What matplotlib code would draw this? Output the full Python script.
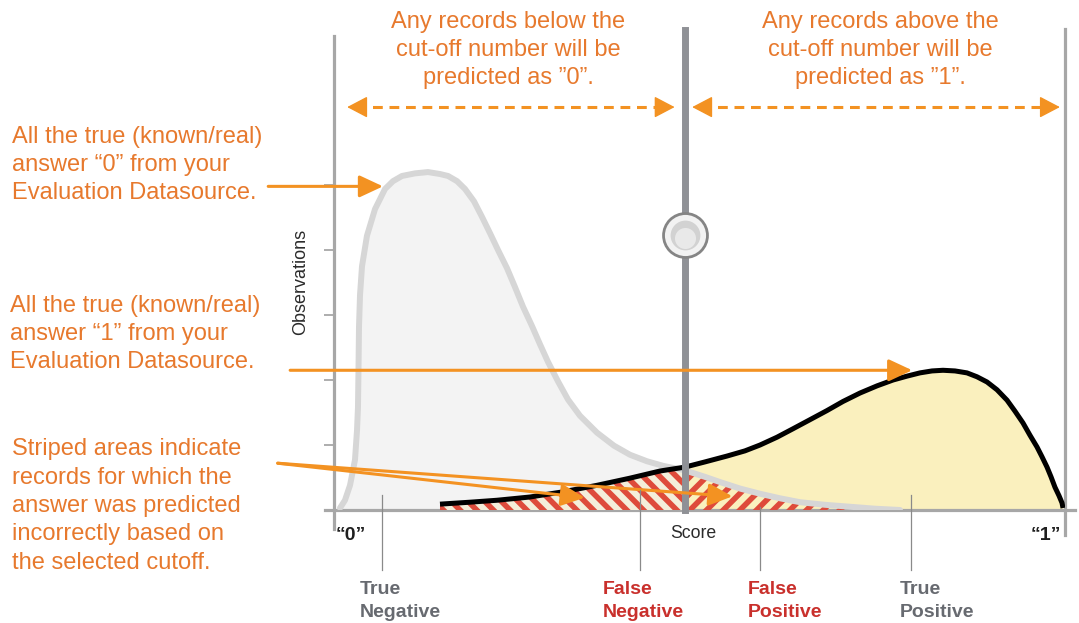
import matplotlib.pyplot as plt
import numpy as np

W, H = 1079, 623
plt.rcParams['font.family'] = ['Liberation Sans', 'DejaVu Sans']
plt.rcParams['hatch.linewidth'] = 4.0

# colours
ORANGE = '#F39222'
TEXT_ORANGE = '#E7792D'
RED_TEXT = '#C9302C'
GRAY_TEXT = '#676A70'
STRIPE_RED = '#DE4B3B'

# actual "0" answers: score vs observations (light gray curve)
score_0 = [0.82, 1.50, 2.19, 2.87, 3.15, 3.28, 3.35, 3.42, 3.56, 3.83, 4.51, 5.61,
           6.98, 8.07, 9.30, 11.08, 12.86, 14.50, 15.60, 16.83, 17.92, 19.15, 20.25,
           21.34, 22.44, 23.67, 24.76, 25.85, 27.09, 28.18, 29.27, 30.64, 32.01,
           33.65, 35.98, 38.30, 40.49, 42.82, 45.01, 48.0, 50.75, 52.80, 55.54,
           58.28, 61.01, 63.75, 67.17, 70.59, 74.01, 77.43]
obs_0 = [0.03, 0.15, 0.38, 0.77, 1.23, 1.58, 2.15, 2.82, 3.31, 3.75, 4.22, 4.63,
         4.94, 5.06, 5.14, 5.18, 5.20, 5.17, 5.14, 5.06, 4.94, 4.75, 4.51,
         4.26, 4.00, 3.72, 3.43, 3.13, 2.83, 2.55, 2.28, 1.98, 1.70,
         1.45, 1.19, 0.99, 0.85, 0.75, 0.68, 0.61, 0.51, 0.43, 0.33,
         0.25, 0.18, 0.12, 0.08, 0.05, 0.02, 0.0]

# actual "1" answers (yellow curve)
score_1 = [14.50, 18.60, 22.30, 26.81, 31.33, 35.98, 40.49, 44.60, 48.0, 50.75, 53.76,
           56.22, 58.28, 60.60, 62.79, 65.12, 67.44, 69.63, 71.96, 74.28, 76.47,
           78.39, 80.16, 81.81, 83.31, 84.95, 86.59, 87.96, 89.33, 90.70, 92.07,
           93.16, 94.25, 95.21, 96.17, 96.85, 97.54, 98.09, 98.63, 99.18, 99.59, 99.73]
obs_1 = [0.09, 0.12, 0.15, 0.20, 0.28, 0.38, 0.49, 0.60, 0.66, 0.74, 0.83,
         0.91, 1.00, 1.12, 1.25, 1.39, 1.53, 1.67, 1.80, 1.91, 2.00,
         2.06, 2.11, 2.14, 2.15, 2.14, 2.11, 2.05, 1.97, 1.85, 1.69,
         1.52, 1.34, 1.15, 0.97, 0.82, 0.66, 0.51, 0.35, 0.22, 0.11, 0.03]

cutoff = 48.0
knob_level = 4.23
y_ticks = [1, 2, 3, 4, 5]

# annotation arrows (start, tip) in score/observation units
arrow_0 = [(-9.0, 4.98), (6.7, 4.98)]
arrow_1 = [(-6.0, 2.15), (79.1, 2.15)]
arrow_fn = [(-7.7, 0.72), (34.3, 0.19)]
arrow_fp = [(-7.7, 0.72), (54.5, 0.21)]
range_level = 6.2
range_below = [1.8, 46.6]
range_above = [49.0, 99.3]

# leader lines for the four outcome labels
leader_x = [6.6, 41.8, 58.3, 78.9]
leader_top = [0.23, 0.31, 0.05, 0.23]
leader_bottom = -0.92

s0 = np.array(score_0)
o0 = np.array(obs_0)
s1 = np.array(score_1)
o1 = np.array(obs_1)

fig = plt.figure(figsize=(W / 100, H / 100), dpi=100)
ax = fig.add_axes([334 / W, 1 - 510 / H, 731 / W, 477 / H])
ax.set_xlim(0, 100)
ax.set_ylim(0, 7.34)

# distributions
ax.fill_between(s0, 0, o0, color='#F3F3F3', lw=0, zorder=1)
ax.fill_between(s1, 0, o1, color='#FAF0BE', lw=0, zorder=2)
# false negatives: "1" answers left of the cut-off
ax.fill_between(s1, 0, o1, where=s1 <= cutoff, facecolor='#F4EEDA',
                edgecolor=STRIPE_RED, hatch='\\\\', lw=0, zorder=3)
# false positives: "0" answers right of the cut-off
ax.fill_between(s0, 0, o0, where=s0 >= cutoff, facecolor='none',
                edgecolor=STRIPE_RED, hatch='//', lw=0, zorder=3)
ax.plot(s0, o0, color='#D6D6D6', lw=4.3, solid_capstyle='round',
        solid_joinstyle='round', zorder=4)
ax.plot(s1, o1, color='black', lw=3.6, solid_capstyle='butt',
        solid_joinstyle='round', zorder=5)

# axes frame
for side in ['left', 'bottom', 'right']:
    ax.spines[side].set_color('#A7A7A7')
    ax.spines[side].set_linewidth(2.3)
ax.spines['top'].set_visible(False)
ax.spines['left'].set_bounds(-0.3, 7.3)
ax.spines['right'].set_bounds(-0.38, 7.4)
ax.spines['bottom'].set_bounds(-1.2, 101.4)
ax.set_yticks(y_ticks)
ax.set_yticklabels([])
ax.set_xticks([])
ax.tick_params(axis='y', length=7, width=1.3, color='#A7A7A7')

# cut-off slider
ax.axvline(cutoff, ymin=0, ymax=1.006, color='#8F9196', lw=5, clip_on=False, zorder=6)
ax.scatter([cutoff], [knob_level], s=1000, facecolor='#F2F2F2', edgecolor='#858585',
           lw=2, zorder=7)
ax.scatter([cutoff], [knob_level], s=460, facecolor='#D2D2D2', lw=0, zorder=8)
ax.scatter([cutoff], [knob_level - 0.05], s=230, facecolor='#E9E9E9', lw=0, zorder=9)

# orange arrows
solid = dict(arrowstyle='-|>,head_length=0.9,head_width=0.42', color=ORANGE, lw=2.2,
             shrinkA=0, shrinkB=0, mutation_scale=16)
for start, tip in [arrow_0, arrow_1, arrow_fn, arrow_fp]:
    ax.annotate('', xy=tip, xytext=start, arrowprops=solid, annotation_clip=False,
                zorder=10)

# dashed range arrows: dashed shaft plus solid heads
head = dict(arrowstyle='-|>,head_length=0.8,head_width=0.42', color=ORANGE, lw=1,
            shrinkA=0, shrinkB=0, mutation_scale=16)
for x0, x1 in [range_below, range_above]:
    ax.plot([x0 + 1.2, x1 - 1.2], [range_level, range_level], color=ORANGE, lw=2.2,
            dashes=(3.2, 2.2), clip_on=False, zorder=10)
    ax.annotate('', xy=(x1, range_level), xytext=(x1 - 2.5, range_level), arrowprops=head,
                annotation_clip=False, zorder=10)
    ax.annotate('', xy=(x0, range_level), xytext=(x0 + 2.5, range_level), arrowprops=head,
                annotation_clip=False, zorder=10)

for x, top in zip(leader_x, leader_top):
    ax.plot([x, x], [top, leader_bottom], color='#8A8A8A', lw=0.9, clip_on=False, zorder=10)


def fx(px):
    return px / W


def fy(py):
    return 1 - py / H


big = dict(fontsize=17, color=TEXT_ORANGE, linespacing=1.37)
fig.text(fx(508), fy(50), 'Any records below the\ncut-off number will be\npredicted as \u201d0\u201d.',
         ha='center', va='center', **big)
fig.text(fx(880), fy(50), 'Any records above the\ncut-off number will be\npredicted as \u201d1\u201d.',
         ha='center', va='center', **big)
fig.text(fx(12), fy(165), 'All the true (known/real)\nanswer \u201c0\u201d from your\nEvaluation Datasource.',
         ha='left', va='center', **big)
fig.text(fx(10), fy(334), 'All the true (known/real)\nanswer \u201c1\u201d from your\nEvaluation Datasource.',
         ha='left', va='center', **big)
fig.text(fx(12), fy(506), 'Striped areas indicate\nrecords for which the\nanswer was predicted\n'
         'incorrectly based on\nthe selected cutoff.', ha='left', va='center', **big)

fig.text(fx(301), fy(282), 'Observations', rotation=90, ha='center', va='center',
         fontsize=13, color='#2B2B2B')
fig.text(fx(693), fy(534), 'Score', ha='center', va='center', fontsize=12.7, color='#2B2B2B')
fig.text(fx(336), fy(535), '\u201c0\u201d', ha='left', va='center', fontsize=14,
         fontweight='bold', color='#1E1E1E')
fig.text(fx(1061), fy(535), '\u201c1\u201d', ha='right', va='center', fontsize=14,
         fontweight='bold', color='#1E1E1E')

outcome = dict(fontsize=14, fontweight='bold', ha='left', va='center', linespacing=1.45)
fig.text(fx(360), fy(601), 'True\nNegative', color=GRAY_TEXT, **outcome)
fig.text(fx(603), fy(601), 'False\nNegative', color=RED_TEXT, **outcome)
fig.text(fx(748), fy(601), 'False\nPositive', color=RED_TEXT, **outcome)
fig.text(fx(900), fy(601), 'True\nPositive', color=GRAY_TEXT, **outcome)

fig.savefig('out.png', dpi=100)
